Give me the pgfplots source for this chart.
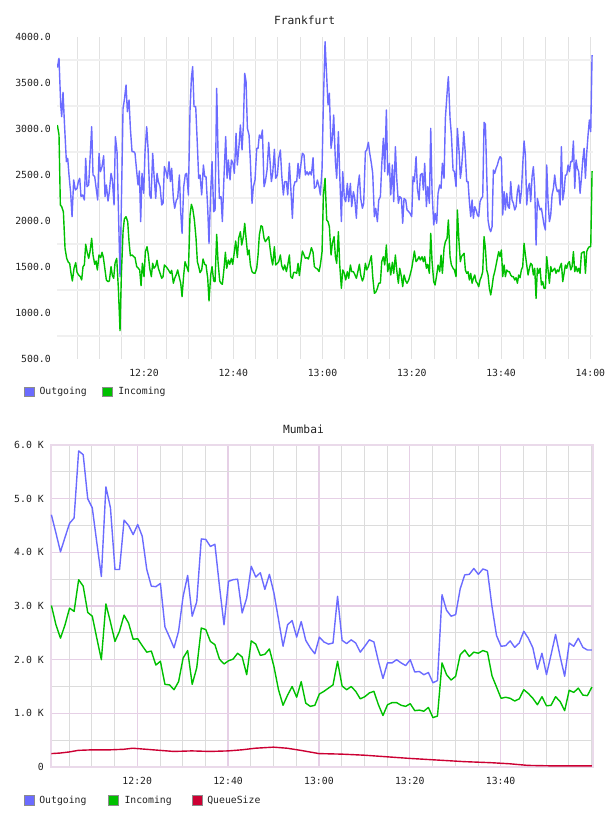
\documentclass[border=0pt]{standalone}
\usepackage{fontspec}
\setmainfont{DejaVu Sans Mono}
\usepackage{pgfplots}
\usepackage{pgfplotstable}
\pgfplotsset{compat=1.18}
\definecolor{outc}{HTML}{6B6BFF}
\definecolor{inc}{HTML}{00C000}
\definecolor{qc}{HTML}{CC0033}
\definecolor{tgridh}{HTML}{F0F0F0}
\definecolor{tgridv}{HTML}{E2E2E2}
\definecolor{bmaj}{HTML}{E6D0E6}
\definecolor{bmin}{HTML}{DCDCDC}
\definecolor{bbord}{HTML}{EADAEA}
\definecolor{txt}{HTML}{222222}
\newcommand{\tk}{\fontsize{7.35}{8}\selectfont}

\pgfplotstableread{
x v
0.58 3667
0.95 3768
1.33 3261
1.55 3134
1.85 3399
2.15 3080
2.60 2645
2.90 2681
3.19 2500
3.57 2300
3.87 2047
4.24 2446
4.61 2337
4.99 2355
5.29 2428
5.59 2464
5.88 2265
6.26 2283
6.63 2228
6.93 2681
7.23 2373
7.60 2391
8.27 3025
8.57 2500
8.95 2482
9.32 2337
9.62 2228
9.92 2736
10.22 2536
10.59 2591
10.96 2710
11.26 2265
11.56 2391
11.93 2217
12.23 2319
12.61 2518
12.91 2446
13.28 2174
13.58 2917
13.95 2754
14.62 1395
14.92 2174
15.30 3225
15.59 3315
15.97 3478
16.27 3188
16.64 3315
16.94 3007
17.31 2754
17.69 2754
17.98 2736
18.36 2536
18.66 2391
18.96 2543
19.25 1993
19.55 2518
19.93 2301
20.22 2754
20.60 3025
20.90 2790
21.27 2283
21.57 2246
21.94 2736
22.24 2500
22.62 2246
22.91 2518
23.21 2428
23.59 2373
23.96 2174
24.26 2192
24.56 2591
24.93 2536
25.23 2464
25.60 2645
25.90 2428
26.20 2573
26.57 2246
26.87 2138
27.25 2228
27.54 2246
27.92 2500
28.22 2101
28.52 1866
28.89 2373
29.26 2507
29.56 2518
29.94 2283
30.31 3207
30.61 3551
30.90 3678
31.20 3243
31.58 3243
31.95 2826
32.25 2464
32.55 2500
32.92 2283
33.30 2609
33.59 2482
33.89 2482
34.27 2138
34.56 1757
34.94 2319
35.24 2645
35.61 2101
35.91 2120
36.28 3442
36.58 2754
36.88 2246
37.25 2265
37.55 1993
37.93 2500
38.30 2917
38.60 2464
38.90 2663
39.27 2446
39.57 2663
39.94 2627
40.24 2518
40.62 2953
40.91 2609
41.29 2826
41.59 3043
41.96 2772
42.26 3043
42.56 3605
42.86 3515
43.16 3007
43.53 2935
43.83 2645
44.20 2192
44.50 2373
44.87 2446
45.25 2790
45.55 2790
45.84 2935
46.22 2899
46.52 2989
46.89 2373
47.19 2428
47.56 2554
47.94 2855
48.24 2645
48.53 2428
48.83 2518
49.21 2779
49.50 2464
49.88 2500
50.18 2681
50.55 2772
50.85 2500
51.22 2283
51.52 2428
51.90 2428
52.20 2283
52.57 2627
52.87 2373
53.24 2029
53.54 2373
53.84 2428
54.21 2428
54.51 2627
54.81 2464
55.18 2627
55.48 2736
55.85 2717
56.15 2500
56.53 2536
56.83 2500
57.20 2536
57.50 2500
57.87 2688
58.17 2355
58.54 2373
58.84 2446
59.22 2373
59.51 2283
59.89 2573
60.19 3297
60.56 3949
61.23 3261
61.53 3388
61.90 2790
62.20 2898
62.50 3152
62.88 2645
63.17 2464
63.55 2971
63.85 2500
64.22 1993
64.52 2536
64.89 2246
65.19 2210
65.56 2409
65.86 2210
66.24 2409
66.53 2156
66.91 2319
67.21 2246
67.58 2029
67.88 2355
68.25 2500
68.55 2246
68.93 2138
69.22 2192
69.60 2754
69.90 2772
70.27 2855
70.57 2736
70.94 2627
71.24 2518
71.61 2047
71.91 2138
72.29 1993
72.59 2228
72.96 2265
73.26 2609
73.63 2899
73.93 2536
74.30 3207
74.60 2500
74.98 2627
75.28 2283
75.65 2609
75.95 2210
76.32 2808
76.62 2464
76.99 2192
77.29 2265
77.67 2246
77.96 1975
78.26 2246
78.64 2228
78.93 2120
79.31 2101
79.61 2083
79.98 2047
80.28 2482
80.58 2428
80.95 2699
81.25 2355
81.62 2228
81.92 2500
82.30 2518
82.59 2337
82.89 2627
83.27 2156
83.56 2373
83.94 2192
84.24 3007
84.54 2319
84.91 1957
85.21 2083
85.58 1975
85.88 2301
86.25 2391
86.55 2355
86.85 2627
87.22 2464
87.52 3116
87.90 3388
88.19 3569
88.57 3116
88.87 2935
89.24 2554
89.54 2536
89.91 2373
90.21 3007
90.59 2754
90.88 2464
91.11 2554
91.41 2754
91.63 2971
91.93 2772
92.30 2428
92.60 2428
92.90 2210
93.20 2047
93.50 2228
93.80 2029
94.10 2156
94.40 2120
94.69 2065
94.99 2047
95.29 2210
95.59 2246
95.89 2265
96.19 3072
96.49 3051
96.79 2500
97.08 2011
97.38 1920
97.68 1884
97.98 1938
98.28 2554
98.58 2518
98.88 2573
99.17 2609
99.47 2663
99.77 2699
100.07 2681
100.37 2065
100.67 2319
100.97 2120
101.27 2301
101.56 2156
101.86 2138
102.16 2428
102.46 2228
102.76 2192
103.06 2120
103.36 2156
103.66 2319
103.95 2391
104.25 2192
104.55 2319
104.85 2609
105.15 2870
105.45 2717
105.75 2174
106.05 2355
106.35 2409
106.64 2210
106.94 2482
107.24 2591
107.54 2355
107.84 1739
108.14 2246
108.44 2174
108.74 2120
109.04 2138
109.33 2047
109.63 1957
109.93 1902
110.23 2609
110.53 2210
110.83 1993
111.13 2065
111.43 2283
111.73 2355
112.02 2500
112.32 2373
112.62 2319
112.92 2337
113.22 2174
113.52 2808
113.82 2228
114.12 2319
114.41 2500
114.71 2500
115.01 2609
115.31 2536
115.61 2645
115.91 2645
116.21 2870
116.51 2355
116.80 2663
117.10 2573
117.40 2536
117.70 2301
118.00 2464
118.30 2663
118.60 2790
118.90 2464
119.19 2736
119.49 2935
119.79 3098
120.09 2971
120.39 3804
}\fout

\pgfplotstableread{
x v
0.58 3043
0.95 2935
1.25 2174
1.55 2156
1.93 2101
2.30 1703
2.67 1594
3.05 1551
3.34 1540
3.64 1431
3.94 1348
4.32 1486
4.69 1547
4.99 1442
5.36 1413
5.73 1395
6.03 1359
6.33 1504
6.63 1522
6.93 1747
7.23 1667
7.60 1594
7.90 1667
8.27 1812
8.57 1631
8.95 1529
9.25 1565
9.54 1468
9.92 1631
10.29 1602
10.59 1660
10.89 1602
11.26 1468
11.56 1359
11.93 1341
12.23 1348
12.61 1504
12.91 1406
13.20 1377
13.50 1540
13.88 1594
14.25 1268
14.62 808
14.92 1413
15.30 1884
15.59 2022
15.97 2047
16.34 1993
16.64 1775
16.94 1623
17.31 1631
17.69 1612
17.98 1602
18.36 1504
18.73 1486
19.03 1468
19.33 1297
19.63 1540
20.00 1395
20.30 1667
20.67 1721
20.97 1631
21.27 1486
21.64 1395
21.94 1540
22.24 1486
22.62 1511
22.91 1573
23.21 1486
23.59 1431
23.96 1377
24.26 1395
24.56 1522
24.93 1504
25.23 1486
25.60 1457
25.90 1431
26.20 1464
26.57 1323
26.87 1377
27.25 1420
27.54 1468
27.92 1384
28.22 1323
28.52 1178
28.89 1413
29.19 1558
29.56 1504
29.94 1450
30.31 2065
30.61 2181
30.90 2138
31.28 2011
31.65 1812
31.95 1558
32.25 1504
32.55 1439
32.92 1468
33.22 1587
33.59 1529
33.89 1522
34.27 1377
34.56 1131
34.94 1413
35.24 1504
35.61 1348
35.91 1341
36.28 1855
36.58 1558
36.96 1348
37.25 1323
37.55 1312
37.93 1486
38.23 1660
38.53 1486
38.90 1576
39.20 1529
39.57 1594
39.87 1529
40.24 1667
40.54 1783
40.91 1602
41.21 1812
41.59 1884
41.89 1739
42.26 1830
42.56 1975
42.86 1812
43.23 1631
43.53 1685
43.83 1522
44.20 1450
44.50 1435
44.87 1431
45.25 1486
45.55 1631
45.84 1848
46.22 1949
46.52 1938
46.89 1812
47.19 1775
47.56 1801
47.94 1830
48.24 1703
48.53 1594
48.83 1522
49.21 1721
49.50 1522
49.88 1540
50.18 1558
50.55 1631
50.85 1515
51.22 1468
51.52 1522
51.90 1450
52.20 1522
52.57 1631
52.87 1395
53.24 1377
53.54 1442
53.84 1442
54.21 1431
54.51 1540
54.81 1406
55.18 1558
55.48 1674
55.85 1631
56.15 1594
56.53 1602
56.83 1587
57.20 1649
57.50 1710
57.87 1660
58.17 1504
58.54 1486
58.84 1478
59.22 1450
59.51 1522
59.89 1667
60.19 2283
60.56 2464
60.93 2011
61.23 1993
61.53 1938
61.90 1630
62.20 1757
62.58 1830
62.88 1612
63.17 1540
63.55 1884
63.85 1522
64.22 1268
64.52 1468
64.89 1431
65.19 1359
65.56 1449
65.86 1377
66.24 1522
66.53 1449
66.91 1449
67.21 1420
67.58 1377
67.88 1442
68.25 1529
68.55 1413
68.93 1348
69.22 1384
69.60 1540
69.90 1468
70.27 1504
70.57 1558
70.94 1623
71.24 1395
71.61 1214
71.91 1225
72.29 1268
72.59 1323
72.96 1326
73.26 1558
73.63 1612
73.93 1522
74.30 1739
74.60 1449
74.98 1540
75.28 1413
75.65 1551
75.95 1431
76.32 1630
76.62 1468
76.99 1323
77.29 1486
77.67 1395
77.96 1286
78.26 1413
78.64 1348
78.93 1323
79.31 1359
79.61 1413
79.98 1486
80.28 1576
80.58 1674
80.95 1558
81.25 1576
81.62 1612
81.92 1576
82.30 1612
82.59 1558
82.89 1612
83.27 1486
83.56 1529
83.94 1431
84.24 1866
84.54 1558
84.91 1341
85.21 1304
85.58 1413
85.88 1522
86.25 1449
86.55 1630
86.85 1431
87.22 1703
87.52 1775
87.90 1812
88.19 2011
88.57 1612
88.87 1522
89.24 1486
89.54 1468
89.91 1395
90.21 2120
90.59 1757
90.88 1558
91.11 1612
91.41 1630
91.71 1649
92.00 1468
92.30 1431
92.60 1449
92.90 1359
93.20 1431
93.50 1323
93.80 1377
94.10 1413
94.40 1341
94.69 1323
94.99 1286
95.29 1359
95.59 1395
95.89 1449
96.19 1830
96.49 1703
96.79 1468
97.08 1413
97.38 1268
97.68 1196
97.98 1286
98.28 1395
98.58 1449
98.88 1522
99.17 1594
99.47 1667
99.77 1612
100.07 1685
100.37 1395
100.67 1522
100.97 1395
101.27 1468
101.56 1449
101.86 1449
102.16 1413
102.46 1395
102.76 1395
103.06 1359
103.36 1384
103.66 1323
103.95 1413
104.25 1384
104.55 1468
104.85 1504
105.15 1757
105.45 1630
105.75 1522
106.05 1413
106.35 1486
106.64 1540
106.94 1522
107.24 1413
107.54 1486
107.84 1159
108.14 1486
108.44 1431
108.74 1486
109.04 1304
109.33 1341
109.63 1268
109.93 1268
110.23 1612
110.53 1468
110.83 1323
111.13 1504
111.43 1449
111.73 1468
112.02 1486
112.32 1431
112.62 1468
112.92 1449
113.22 1504
113.52 1540
113.82 1341
114.12 1431
114.41 1522
114.71 1486
115.01 1540
115.31 1558
115.61 1468
115.91 1504
116.21 1667
116.51 1449
116.80 1504
117.10 1449
117.40 1486
117.70 1431
118.00 1649
118.30 1660
118.60 1667
118.90 1431
119.19 1667
119.49 1703
119.79 1721
120.09 1721
120.39 2543
}\fin

\pgfplotstableread{
x out in
1.1 4.70 3.01
2.1 4.36 2.65
3.1 4.01 2.40
4.1 4.28 2.65
5.1 4.54 2.96
6.1 4.64 2.90
7.1 5.89 3.49
8.1 5.82 3.37
9.1 5.00 2.88
10.1 4.83 2.81
11.1 4.18 2.40
12.1 3.55 2.00
13.1 5.22 3.04
14.1 4.83 2.70
15.1 3.68 2.34
16.1 3.68 2.53
17.1 4.60 2.83
18.1 4.50 2.68
19.1 4.33 2.38
20.1 4.52 2.39
21.1 4.30 2.26
22.1 3.68 2.14
23.1 3.37 2.16
24.1 3.36 1.90
25.1 3.42 1.97
26.1 2.61 1.54
27.1 2.42 1.53
28.1 2.22 1.44
29.1 2.53 1.59
30.1 3.18 2.03
31.1 3.57 2.17
32.1 2.81 1.54
33.1 3.08 1.85
34.1 4.25 2.59
35.1 4.24 2.56
36.1 4.11 2.34
37.1 4.15 2.28
38.1 3.37 2.01
39.1 2.65 1.92
40.1 3.46 1.98
41.1 3.49 2.01
42.1 3.50 2.12
43.1 2.87 2.05
44.1 3.15 1.72
45.1 3.74 2.35
46.1 3.54 2.29
47.1 3.62 2.08
48.1 3.31 2.10
49.1 3.59 2.20
50.1 3.24 1.87
51.1 2.75 1.44
52.1 2.25 1.15
53.1 2.65 1.34
54.1 2.73 1.50
55.1 2.42 1.30
56.1 2.71 1.59
57.1 2.36 1.19
58.1 2.22 1.13
59.1 2.11 1.15
60.1 2.42 1.36
61.1 2.33 1.41
62.1 2.29 1.47
63.1 2.31 1.53
64.1 3.18 1.97
65.1 2.36 1.51
66.1 2.30 1.44
67.1 2.37 1.50
68.1 2.31 1.41
69.1 2.14 1.27
70.1 2.25 1.31
71.1 2.37 1.38
72.1 2.33 1.41
73.1 1.97 1.16
74.1 1.65 0.96
75.1 1.94 1.16
76.1 1.94 1.20
77.1 2.00 1.20
78.1 1.94 1.15
79.1 1.89 1.13
80.1 2.00 1.18
81.1 1.77 1.05
82.1 1.78 1.06
83.1 1.72 1.04
84.1 1.76 1.11
85.1 1.57 0.92
86.1 1.61 0.95
87.1 3.21 1.94
88.1 2.92 1.72
89.1 2.81 1.62
90.1 2.84 1.69
91.1 3.32 2.09
92.1 3.58 2.18
93.1 3.59 2.06
94.1 3.70 2.14
95.1 3.59 2.12
96.1 3.69 2.17
97.1 3.66 2.14
98.1 2.99 1.70
99.1 2.45 1.49
100.1 2.25 1.28
101.1 2.26 1.30
102.1 2.35 1.28
103.1 2.23 1.23
104.1 2.31 1.27
105.1 2.53 1.44
106.1 2.40 1.37
107.1 2.22 1.28
108.1 1.82 1.16
109.1 2.12 1.31
110.1 1.72 1.14
111.1 2.09 1.15
112.1 2.47 1.31
113.1 2.06 1.22
114.1 1.69 1.05
115.1 2.31 1.43
116.1 2.25 1.39
117.1 2.40 1.47
118.1 2.23 1.34
119.1 2.18 1.33
120.1 2.18 1.49
}\mum

\pgfplotstableread{
x q
1.1 0.25
3 0.26
5 0.28
7 0.31
10 0.32
14 0.32
17 0.33
19 0.35
22 0.33
25 0.31
28 0.29
32 0.30
36 0.29
40 0.30
43 0.32
46 0.35
50 0.37
53 0.35
56 0.31
60 0.25
65 0.24
70 0.22
75 0.19
80 0.16
86 0.13
92 0.10
98 0.08
102 0.06
106 0.03
112 0.02
120.1 0.02
}\queue

\begin{document}
\begin{tikzpicture}
\path[use as bounding box] (0pt,0pt) rectangle (456pt,-612pt);

% titles
\node[font=\fontsize{8.45}{10}\selectfont, text=txt, inner sep=0pt] at (228.4pt,-15.5pt) {Frankfurt};
\node[font=\fontsize{8.45}{10}\selectfont, text=txt, inner sep=0pt] at (227.6pt,-321.75pt) {Mumbai};

\begin{axis}[
  at={(42.75pt,-27.75pt)}, anchor=north west,
  width=402pt, height=241.5pt, scale only axis,
  xmin=0.5, xmax=120.6, ymin=500, ymax=4000,
  axis line style={draw=none},
  major tick length=0pt, minor tick length=0pt,
  xtick={5,10,...,120},
  xticklabels={,,,12:20,,,,12:40,,,,13:00,,,,13:20,,,,13:40,,,,14:00},
  ytick={500,1000,...,4000},
  yticklabels={500.0,1000.0,1500.0,2000.0,2500.0,3000.0,3500.0,4000.0},
  minor ytick={750,1250,...,3750},
  xmajorgrids=true, ymajorgrids=false, yminorgrids=true,
  major grid style={tgridv, line width=0.7pt},
  minor grid style={tgridh, line width=1.1pt},
  xticklabel style={font=\tk, text=txt, anchor=center, inner sep=0pt, yshift=-10.7pt},
  yticklabel style={font=\tk, text=txt, anchor=east, inner sep=0pt, xshift=-4.5pt},
]
\addplot[outc, line width=1.05pt, line join=round, mark=none] table[x=x,y=v]{\fout};
\addplot[inc, line width=1.05pt, line join=round, mark=none] table[x=x,y=v]{\fin};
\end{axis}

\begin{axis}[
  at={(38.0pt,-333.75pt)}, anchor=north west,
  width=406.95pt, height=241.5pt, scale only axis,
  xmin=0.94, xmax=120.4, ymin=0, ymax=6,
  axis line style={draw=bbord, line width=1.5pt},
  major tick length=0pt, minor tick length=0pt,
  xtick={20,40,60,80,100},
  xticklabels={12:20,12:40,13:00,13:20,13:40},
  minor xtick={5,10,...,120},
  ytick={0,1,...,6},
  yticklabels={0,1.0 K,2.0 K,3.0 K,4.0 K,5.0 K,6.0 K},
  minor ytick={0.5,1.5,...,5.5},
  xmajorgrids=true, xminorgrids=true, ymajorgrids=true, yminorgrids=true,
  major grid style={bmaj, line width=0.9pt},
  minor grid style={bmin, line width=0.6pt},
  xticklabel style={font=\tk, text=txt, anchor=center, inner sep=0pt, yshift=-10.5pt},
  yticklabel style={font=\tk, text=txt, anchor=east, inner sep=0pt, xshift=-5pt},
]
\addplot[outc, line width=1.05pt, line join=round, mark=none] table[x=x,y=out]{\mum};
\addplot[inc, line width=1.05pt, line join=round, mark=none] table[x=x,y=in]{\mum};
\addplot[qc, line width=1.05pt, line join=round, mark=none] table[x=x,y=q]{\queue};
\end{axis}

% legends
\begin{scope}[every node/.style={font=\tk, text=txt, inner sep=0pt, anchor=west}]
\draw[draw=black!45, fill=outc, line width=0.6pt] (18.3pt,-290.3pt) rectangle (25.8pt,-297.6pt);
\node at (29.5pt,-294pt) {Outgoing};
\draw[draw=black!45, fill=inc, line width=0.6pt] (77pt,-290.3pt) rectangle (84.5pt,-297.6pt);
\node at (88.5pt,-294pt) {Incoming};

\draw[draw=black!45, fill=outc, line width=0.6pt] (18.3pt,-596.8pt) rectangle (25.8pt,-604.1pt);
\node at (29.3pt,-600.5pt) {Outgoing};
\draw[draw=black!45, fill=inc, line width=0.6pt] (81.4pt,-596.8pt) rectangle (88.9pt,-604.1pt);
\node at (93.2pt,-600.5pt) {Incoming};
\draw[draw=black!45, fill=qc, line width=0.6pt] (144.4pt,-596.8pt) rectangle (151.9pt,-604.1pt);
\node at (155.3pt,-600.5pt) {QueueSize};
\end{scope}
\end{tikzpicture}
\end{document}
